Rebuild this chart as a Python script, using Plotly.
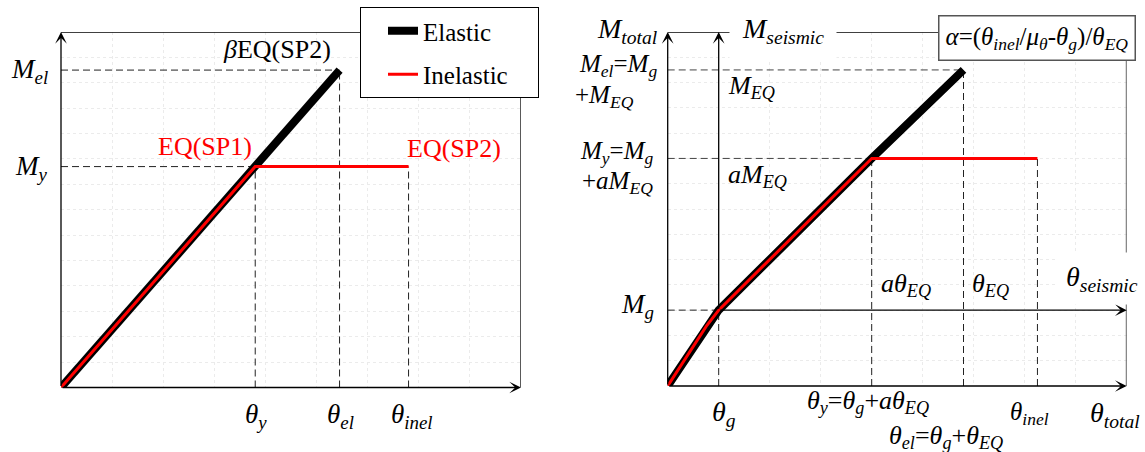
import plotly.graph_objects as go

# ---------------------------------------------------------------
# Values are expressed in background-grid units (9 columns x 14 rows
# per panel).
# ---------------------------------------------------------------
GRID_COLS = 9
GRID_ROWS = 14

# Left panel: elastic vs. elastic-perfectly-plastic response
left_theta_y = 3.8
left_theta_el = 5.45
left_theta_inel = 6.8
left_M_y = 8.7
left_M_el = 12.5

left_elastic_theta = [0.0, left_theta_el]
left_elastic_M = [0.0, left_M_el]
left_inelastic_theta = [0.0, left_theta_y, left_theta_inel]
left_inelastic_M = [0.0, left_M_y, left_M_y]

# Right panel: gravity branch followed by the seismic branch
right_theta_g = 1.0
right_theta_y = 4.0
right_theta_el = 5.8
right_theta_inel = 7.25
right_M_g = 3.0
right_M_y = 9.0
right_M_el = 12.5

gravity_theta = [0.0, 0.77, right_theta_g]
gravity_M = [0.0, 2.4, right_M_g]

right_elastic_theta = gravity_theta + [right_theta_y, right_theta_el]
right_elastic_M = gravity_M + [right_M_y, right_M_el]
right_inelastic_theta = gravity_theta + [right_theta_y, right_theta_inel]
right_inelastic_M = gravity_M + [right_M_y, right_M_y]

FONT = "Liberation Serif"
RED = "#ff0000"
DASH = "7px,4px"
NBSP = "\u00a0"

fig = go.Figure()

# ---- curves -----------------------------------------------------
fig.add_trace(go.Scatter(x=left_elastic_theta, y=left_elastic_M, mode="lines",
                         name="Elastic", legendgroup="el",
                         line=dict(color="black", width=8),
                         xaxis="x", yaxis="y", hoverinfo="skip"))
fig.add_trace(go.Scatter(x=left_inelastic_theta, y=left_inelastic_M, mode="lines",
                         name="Inelastic" + NBSP * 4, legendgroup="inel",
                         line=dict(color=RED, width=3),
                         xaxis="x", yaxis="y", hoverinfo="skip"))
fig.add_trace(go.Scatter(x=right_elastic_theta, y=right_elastic_M, mode="lines",
                         showlegend=False, line=dict(color="black", width=8),
                         xaxis="x2", yaxis="y2", hoverinfo="skip"))
fig.add_trace(go.Scatter(x=right_inelastic_theta, y=right_inelastic_M, mode="lines",
                         showlegend=False, line=dict(color=RED, width=3),
                         xaxis="x2", yaxis="y2", hoverinfo="skip"))

# ---- axes ---------------------------------------------------------
W, H = 1145, 452
axis_style = dict(showgrid=True, gridcolor="#ebebeb", griddash="dot", gridwidth=1,
                  zeroline=False, showline=False, ticks="", showticklabels=False,
                  dtick=1, tick0=0, fixedrange=True)
fig.update_layout(
    xaxis=dict(domain=[61 / W, 521 / W], range=[0, GRID_COLS], anchor="y", **axis_style),
    yaxis=dict(domain=[(H - 387.5) / H, (H - 32) / H], range=[0, GRID_ROWS], anchor="x", **axis_style),
    xaxis2=dict(domain=[667.7 / W, 1126.7 / W], range=[0, GRID_COLS], anchor="y2", **axis_style),
    yaxis2=dict(domain=[(H - 386) / H, (H - 32) / H], range=[0, GRID_ROWS], anchor="x2", **axis_style),
)

shapes = []


def seg(ref, x0, y0, x1, y1, color="black", width=1, dash=None, layer="between"):
    xr, yr = ref
    line = dict(color=color, width=width)
    if dash:
        line["dash"] = dash
    shapes.append(dict(type="line", xref=xr, yref=yr, x0=x0, y0=y0, x1=x1, y1=y1,
                       line=line, layer=layer))


L = ("x", "y")
R = ("x2", "y2")

# left guide lines (drawn above the grid, beneath the curves)
seg(L, 0, left_M_y, left_theta_y, left_M_y, color="#222", dash=DASH)
seg(L, 0, left_M_el, left_theta_el, left_M_el, color="#222", dash=DASH)
seg(L, left_theta_y, 0, left_theta_y, left_M_y, color="#222", dash=DASH)
seg(L, left_theta_el, 0, left_theta_el, left_M_el, color="#222", dash=DASH)
seg(L, left_theta_inel, 0, left_theta_inel, left_M_y, color="#222", dash=DASH)
# left frame (top / right)
seg(L, 0, GRID_ROWS, GRID_COLS, GRID_ROWS, width=1.3, layer="above")
seg(L, GRID_COLS, 0, GRID_COLS, GRID_ROWS, width=1.3, layer="above")

# right guide lines
seg(R, 0, right_M_el, right_theta_el, right_M_el, color="#444", dash=DASH)
seg(R, 0, right_M_y, right_theta_y, right_M_y, color="#444", dash=DASH)
seg(R, 0, right_M_g, right_theta_g, right_M_g, color="#222", dash=DASH)
seg(R, right_theta_g, 0, right_theta_g, right_M_g, color="#222", dash=DASH)
seg(R, right_theta_y, 0, right_theta_y, right_M_y, color="#222", dash=DASH)
seg(R, right_theta_el, 0, right_theta_el, right_M_el, color="#222", dash=DASH)
seg(R, right_theta_inel, 0, right_theta_inel, right_M_y, color="#222", dash=DASH)
# right frame (top / right)
seg(R, 0, GRID_ROWS, GRID_COLS, GRID_ROWS, width=1.3, layer="above")
seg(R, GRID_COLS, 0, GRID_COLS, GRID_ROWS, color="#555", width=1.8, layer="above")

annotations = []


def arrow(ref, x0, y0, x1, y1):
    xr, yr = ref
    annotations.append(dict(xref=xr, yref=yr, axref=xr, ayref=yr,
                            x=x1, y=y1, ax=x0, ay=y0, text="", showarrow=True,
                            arrowhead=3, arrowsize=1.5, arrowwidth=1.3,
                            arrowcolor="black", standoff=0, startstandoff=0))


# axes drawn as arrows
arrow(L, 0, 0, 0, GRID_ROWS)
arrow(L, 0, 0, GRID_COLS, 0)
arrow(R, 0, 0, 0, GRID_ROWS)
arrow(R, 0, 0, GRID_COLS, 0)
# seismic axes originating at the gravity point
arrow(R, right_theta_g, right_M_g, right_theta_g, GRID_ROWS)
arrow(R, right_theta_g, right_M_g, GRID_COLS, right_M_g)


def label(ref, x, y, text, size=26, color="black", xanchor="center", yanchor="middle",
          xshift=0, yshift=0, bg=None, pad=1):
    xr, yr = ref
    d = dict(xref=xr, yref=yr, x=x, y=y, text=text, showarrow=False,
             font=dict(family=FONT, size=size, color=color),
             xanchor=xanchor, yanchor=yanchor, xshift=xshift, yshift=yshift,
             borderpad=pad)
    if bg:
        d["bgcolor"] = bg
    annotations.append(d)


# left panel labels
label(L, 0, left_M_el, "<i>M</i><sub><i>el</i></sub>", size=27, xanchor="right", xshift=-11, yshift=-1)
label(L, 0, left_M_y, "<i>M</i><sub><i>y</i></sub>", size=27, xanchor="right", xshift=-11, yshift=-1)
label(L, left_theta_el, left_M_el, "<i>β</i>EQ(SP2)", size=26, xanchor="right", xshift=-7, yshift=21)
label(L, left_theta_y, left_M_y, "EQ(SP1)", size=26, color=RED, xanchor="right", xshift=-1, yshift=20)
label(L, left_theta_inel, left_M_y, "EQ(SP2)", size=26, color=RED, xanchor="left", xshift=-4, yshift=18)
label(L, left_theta_y, 0, "<i>θ</i><sub><i>y</i></sub>", size=27, xshift=1, yshift=-28)
label(L, left_theta_el, 0, "<i>θ</i><sub><i>el</i></sub>", size=27, xshift=1, yshift=-28)
label(L, left_theta_inel, 0, "<i>θ</i><sub><i>inel</i></sub>", size=27, xshift=3, yshift=-28)

# right panel labels
label(R, 0, GRID_ROWS, "<i>M</i><sub><i>total</i></sub>", size=28, xanchor="right", xshift=-8, yshift=2)
label(R, right_theta_g, GRID_ROWS, "<i>M</i><sub><i>seismic</i></sub>", size=28, xanchor="left",
      xshift=10, yshift=2, bg="white", pad=12)
label(R, 0, right_M_el, "<i>M</i><sub><i>el</i></sub>=<i>M</i><sub><i>g</i></sub>",
      size=25, xanchor="right", xshift=-9, yshift=4)
label(R, 0, right_M_el, "+<i>M</i><sub><i>EQ</i></sub>",
      size=25, xanchor="left", xshift=-95, yshift=-27)
label(R, 0, right_M_y, "<i>M</i><sub><i>y</i></sub>=<i>M</i><sub><i>g</i></sub>",
      size=25, xanchor="right", xshift=-12, yshift=6)
label(R, 0, right_M_y, "+<i>aM</i><sub><i>EQ</i></sub>",
      size=25, xanchor="right", xshift=-13, yshift=-24)
label(R, right_theta_g, right_M_el, "<i>M</i><sub><i>EQ</i></sub>", size=26, xanchor="left", xshift=7, yshift=-17)
label(R, right_theta_g, right_M_y, "<i>aM</i><sub><i>EQ</i></sub>", size=26, xanchor="left", xshift=7, yshift=-18)
label(R, 0, right_M_g, "<i>M</i><sub><i>g</i></sub>", size=27, xanchor="right", xshift=-12, yshift=4)
label(R, right_theta_g, 0, "<i>θ</i><sub><i>g</i></sub>", size=28, xshift=5, yshift=-27)
label(R, right_theta_y, 0, "<i>θ</i><sub><i>y</i></sub>=<i>θ</i><sub><i>g</i></sub>+<i>aθ</i><sub><i>EQ</i></sub>",
      size=26, xshift=-4, yshift=-16)
label(R, right_theta_el, 0, "<i>θ</i><sub><i>el</i></sub>=<i>θ</i><sub><i>g</i></sub>+<i>θ</i><sub><i>EQ</i></sub>",
      size=26, xshift=-18, yshift=-51)
label(R, right_theta_inel, 0, "<i>θ</i><sub><i>inel</i></sub>", size=25, xshift=-8, yshift=-27)
label(R, GRID_COLS, 0, "<i>θ</i><sub><i>total</i></sub>", size=28, xshift=-12, yshift=-28)
label(R, right_theta_y, right_M_g, "<i>aθ</i><sub><i>EQ</i></sub>", size=26, xanchor="left", xshift=7, yshift=25)
label(R, right_theta_el, right_M_g, "<i>θ</i><sub><i>EQ</i></sub>", size=26, xanchor="left", xshift=6, yshift=25)
label(R, GRID_COLS, right_M_g, "<i>θ</i><sub><i>seismic</i></sub>", size=28, xanchor="right",
      xshift=20, yshift=32, bg="white", pad=8)

# ductility-ratio definition box
annotations.append(dict(
    xref="paper", yref="paper", x=938 / W, y=(H - 38) / H, xanchor="left", yanchor="middle",
    text="<i>α</i>=(<i>θ</i><sub><i>inel</i></sub>/<i>μ</i><sub><i>θ</i></sub>-<i>θ</i><sub><i>g</i></sub>)/<i>θ</i><sub><i>EQ</i></sub>",
    showarrow=False, font=dict(family=FONT, size=25, color="black"),
    bgcolor="white", bordercolor="#555", borderwidth=1.5, borderpad=6))

fig.update_layout(
    width=W, height=H, autosize=False,
    margin=dict(l=0, r=0, t=0, b=0),
    paper_bgcolor="white", plot_bgcolor="white",
    font=dict(family=FONT, color="black"),
    shapes=shapes, annotations=annotations,
    showlegend=True,
    legend=dict(x=360 / W, y=(H - 7) / H, xanchor="left", yanchor="top",
                bgcolor="white", bordercolor="black", borderwidth=1,
                font=dict(family=FONT, size=25, color="black"),
                tracegroupgap=8, indentation=22, itemwidth=30),
)

fig.write_html("out.html")
